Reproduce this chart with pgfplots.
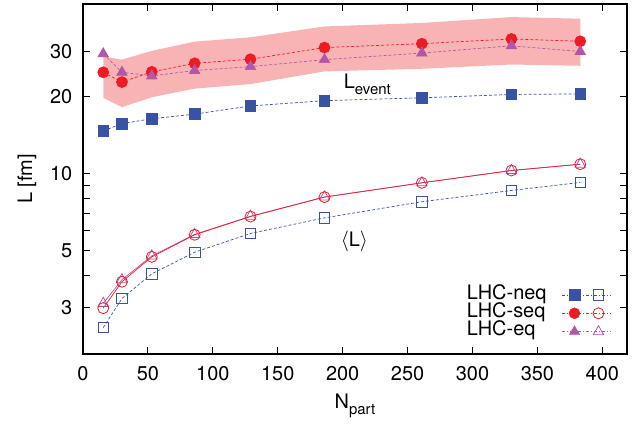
\documentclass[border=0pt]{standalone}
\usepackage{pgfplots}
\pgfplotsset{compat=1.18}
\usepackage{fontspec}
\setmainfont{TeX Gyre Heros}
\usetikzlibrary{plotmarks}
\definecolor{neqc}{RGB}{57,83,164}
\definecolor{seqc}{RGB}{237,28,36}
\definecolor{eqc}{RGB}{180,85,168}
\definecolor{bandc}{RGB}{248,180,180}
\begin{document}
\fontsize{20}{24}\selectfont
\begin{tikzpicture}
\begin{axis}[
  scale only axis, width=544bp, height=350bp,
  ymode=log, xmin=0, xmax=419, ymin=1.98, ymax=46,
  axis line style={line width=1.2pt},
  every tick/.style={black, line width=1pt},
  tick align=inside, major tick length=7bp, minor tick length=7bp,
  xtick={0,50,...,400},
  ytick={3,5,10,20,30}, yticklabels={3,5,10,20,30},
  minor ytick={4,6,7,8,9},
  log ticks with fixed point,
  /pgf/number format/assume math mode=true,
  tick label style={font=\fontsize{20}{24}\selectfont},
  xticklabel style={yshift=-6bp},
  yticklabel style={xshift=-4bp},
  xlabel={N\raisebox{-0.3em}{\fontsize{15}{15}\selectfont part}},
  ylabel={L [fm]},
  label style={font=\fontsize{20}{24}\selectfont},
  xlabel style={at={(axis description cs:0.5,-0.157)}, anchor=base},
  ylabel style={at={(axis description cs:-0.103,0.5)}, anchor=center},
  legend plot pos=right,
  legend cell align=left,
  legend style={draw=none, fill=none, at={(rel axis cs:0.978,0.031)}, anchor=south east,
    font=\fontsize{20}{20}\selectfont, row sep=0pt,
    nodes={inner sep=0pt, text height=13.5pt, text depth=5pt}},
]
% band for seq L_event
\addplot[draw=none, fill=bandc, forget plot] coordinates {
(15.6,28.7) (30,27.9) (53,30.2) (86,32.8) (129,34.1) (186,37.6) (261,38.8) (330,40.9) (383,40.3)
(383,26.4) (330,26.7) (261,25.7) (186,25.1) (129,22.4) (86,21.5) (53,19.9) (30,18.2) (15.6,19.8)
} -- cycle;
% L_event filled
\addplot[neqc, densely dashed, line width=0.7pt, mark=square*, mark size=5.3bp, mark options={solid, fill=neqc}, forget plot] coordinates {
(15.6,14.7) (30,15.7) (53,16.4) (86,17.1) (129,18.4) (186,19.3) (261,19.8) (330,20.4) (383,20.5)};
\addplot[seqc, densely dashed, line width=0.7pt, mark=*, mark size=5.5bp, mark options={solid, fill=seqc}, forget plot] coordinates {
(15.6,24.9) (30,22.8) (53,25.0) (86,27.0) (129,28.0) (186,31.1) (261,32.2) (330,33.6) (383,32.9)};
\addplot[eqc, densely dashed, line width=0.7pt, mark=triangle*, mark size=6bp, mark options={solid, fill=eqc}, forget plot] coordinates {
(15.6,29.4) (30,24.9) (53,24.1) (86,25.3) (129,26.2) (186,27.9) (261,29.6) (330,31.6) (383,30.0)};
% <L> open
\addplot[neqc, densely dashed, line width=0.7pt, mark=square, mark size=5.3bp, mark options={solid, line width=0.8pt}, forget plot] coordinates {
(15.6,2.51) (30,3.26) (53,4.07) (86,4.94) (129,5.85) (186,6.73) (261,7.78) (330,8.61) (383,9.25)};
\addplot[eqc, line width=0.7pt, mark=triangle, mark size=6bp, mark options={solid, line width=0.8pt}, forget plot] coordinates {
(15.6,3.12) (30,3.86) (53,4.78) (86,5.80) (129,6.83) (186,8.12) (261,9.22) (330,10.3) (383,10.9)};
\addplot[seqc, line width=0.7pt, mark=o, mark size=5.5bp, mark options={solid, line width=0.8pt}, forget plot] coordinates {
(15.6,2.99) (30,3.79) (53,4.74) (86,5.78) (129,6.81) (186,8.11) (261,9.22) (330,10.3) (383,10.9)};
% labels
\node[font=\fontsize{20}{24}\selectfont] at (axis cs:219,22.3) {L\raisebox{-0.3em}{\fontsize{15}{15}\selectfont event}};
\node[font=\fontsize{20}{24}\selectfont] at (axis cs:209,5.47) {$\langle$L$\rangle$};
% legend
\addlegendimage{legend image code/.code={
  \path[draw=none, fill=none] (0bp,0bp) -- (65bp,0bp);
  \draw[neqc, dash pattern=on 3pt off 2pt on 1pt off 2pt, line width=0.7pt] (16bp,0bp) -- (65bp,0bp);
  \begin{scope}[shift={(28bp,0bp)}]\pgfsetfillcolor{neqc}\pgfsetstrokecolor{neqc}\pgfsetplotmarksize{5.3bp}\pgfuseplotmark{square*}\end{scope}
  \begin{scope}[shift={(52bp,0bp)}]\pgfsetstrokecolor{neqc}\pgfsetlinewidth{0.8pt}\pgfsetplotmarksize{5.3bp}\pgfuseplotmark{square}\end{scope}
}}
\addlegendentry{LHC-neq}
\addlegendimage{legend image code/.code={
  \path[draw=none, fill=none] (0bp,0bp) -- (65bp,0bp);
  \draw[seqc, dash pattern=on 3pt off 2pt on 1pt off 2pt, line width=0.7pt] (16bp,0bp) -- (65bp,0bp);
  \begin{scope}[shift={(28bp,0bp)}]\pgfsetfillcolor{seqc}\pgfsetstrokecolor{seqc}\pgfsetplotmarksize{5.5bp}\pgfuseplotmark{*}\end{scope}
  \begin{scope}[shift={(52bp,0bp)}]\pgfsetstrokecolor{seqc}\pgfsetfillcolor{white}\pgfsetlinewidth{0.8pt}\pgfsetplotmarksize{5.5bp}\pgfuseplotmark{o}\end{scope}
}}
\addlegendentry{LHC-seq}
\addlegendimage{legend image code/.code={
  \path[draw=none, fill=none] (0bp,0bp) -- (65bp,0bp);
  \draw[eqc, dash pattern=on 3pt off 2pt on 1pt off 2pt, line width=0.7pt] (16bp,0bp) -- (65bp,0bp);
  \begin{scope}[shift={(28bp,0bp)}]\pgfsetfillcolor{eqc}\pgfsetstrokecolor{eqc}\pgfsetplotmarksize{6bp}\pgfuseplotmark{triangle*}\end{scope}
  \begin{scope}[shift={(52bp,0bp)}]\pgfsetstrokecolor{eqc}\pgfsetfillcolor{white}\pgfsetlinewidth{0.8pt}\pgfsetplotmarksize{6bp}\pgfuseplotmark{triangle}\end{scope}
}}
\addlegendentry{LHC-eq}
\end{axis}
\pgfresetboundingbox
\path (current axis.south west) ++(-83bp,-70bp) rectangle ++(644bp,424bp);
\end{tikzpicture}
\end{document}
